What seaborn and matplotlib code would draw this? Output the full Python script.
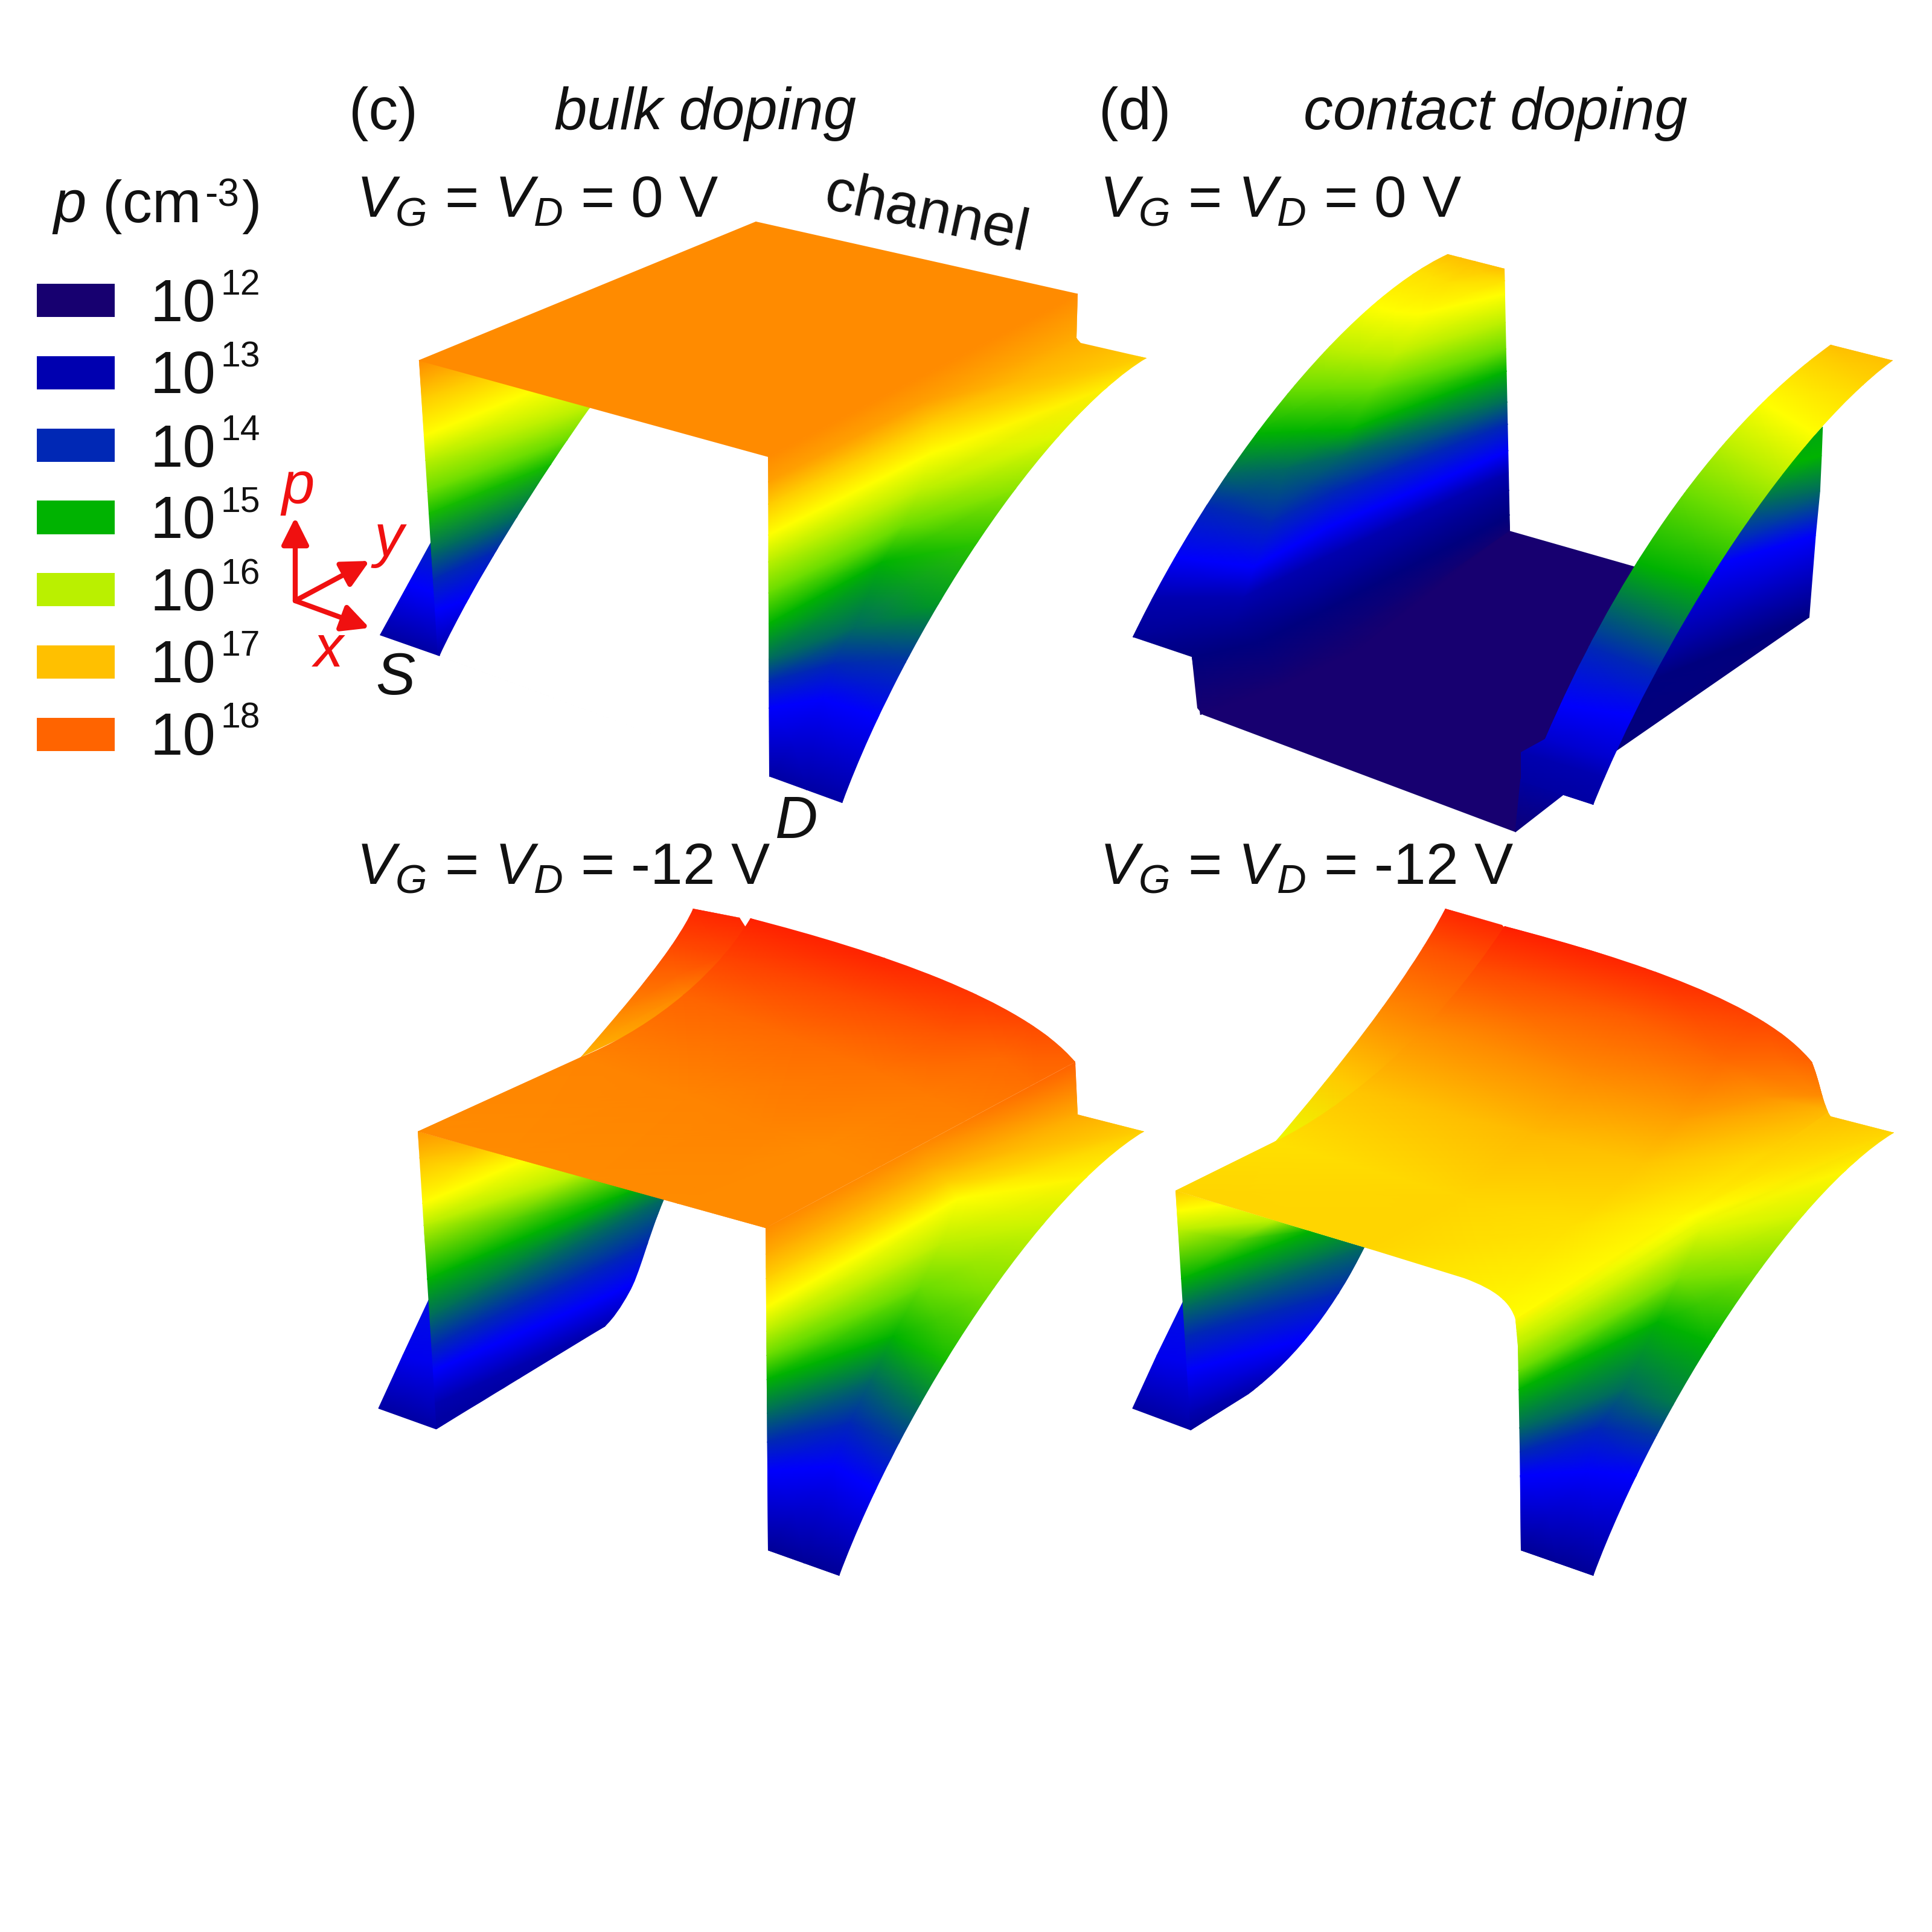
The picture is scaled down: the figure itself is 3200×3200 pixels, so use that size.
import numpy as np
import pandas as pd
import matplotlib
matplotlib.use("Agg")
import matplotlib.pyplot as plt
from matplotlib.colors import LinearSegmentedColormap, Normalize
from matplotlib.patches import PathPatch
from matplotlib.path import Path
import seaborn as sns

sns.set_theme(style="white")
plt.rcParams['font.family'] = ['Liberation Sans', 'DejaVu Sans']
plt.rcParams['mathtext.fontset'] = 'custom'
plt.rcParams['mathtext.rm'] = 'Liberation Sans'
plt.rcParams['mathtext.it'] = 'Liberation Sans:italic'
plt.rcParams['mathtext.bf'] = 'Liberation Sans:bold'

# colour scale, log10(p)
scale_levels = [12, 12.6, 13, 13.5, 14, 14.5, 15, 15.5, 16, 16.4, 17, 17.5, 18, 18.8]
scale_colors = ['#170070', '#00007f', '#0000b0', '#0000ff', '#0028b4', '#006a60', '#00b400',
                '#6add00', '#b9f000', '#ffff00', '#ffc000', '#ff8c00', '#ff6400', '#ff1e00']
legend_exponents = [12, 13, 14, 15, 16, 17, 18]

# (c) 0 V
c0_plate_x = [[150, 775], [797, 1372]]
c0_plate_y = [[405, 92], [622, 255]]
c0_plate_p = [[17.5, 17.5], [17.5, 17.5]]
c0_drain_x = [[797, 1085, 1372], [797, 1085, 1370], [797, 1100, 1500], [797, 1100, 1420], [798, 1080, 1330],
              [798, 1050, 1250], [798, 1010, 1180], [799, 960, 1100], [799, 920, 1050], [799, 900, 1005], [800, 868, 935]]
c0_drain_y = [[622, 438, 255], [680, 500, 355], [730, 545, 400], [800, 615, 470], [860, 700, 580],
              [930, 780, 700], [1000, 860, 820], [1080, 1010, 960], [1130, 1090, 1080], [1190, 1170, 1210], [1345, 1375, 1405]]
c0_drain_p = [[17.5, 17.5, 17.5], [17.3, 17.3, 17.2], [16.9, 16.9, 16.85], [16.4, 16.4, 16.55], [16, 16, 16.2],
              [15.5, 15.5, 15.7], [15, 15, 15.2], [14.5, 14.5, 14.8], [14, 14, 14.1], [13.5, 13.5, 13.5], [12.9, 12.9, 12.9]]
c0_drain_edge = [(797, 622), (1372, 255), (1370, 355), (1378, 365), (1500, 400),
                 (1310, 540, 1055, 1010, 935, 1405), (800, 1345)]
c0_source_x = [[150, 150], [155, 260], [160, 360], [163, 468], [167, 425], [170, 395], [173, 330], [176, 285], [180, 240], [185, 188]]
c0_source_y = [[405, 405], [490, 445], [575, 475], [630, 512], [700, 585], [750, 640], [840, 760], [900, 840], [970, 945], [1072, 1072]]
c0_source_p = [[17.5, 17.5], [16.9, 16.9], [16.4, 16.4], [16, 16], [15.5, 15.5], [15.1, 15.1], [14.5, 14.5], [14, 14], [13.5, 13.5], [12.9, 12.9]]
c0_source_edge = [(150, 405), (468, 510), (380, 660, 250, 910, 188, 1072), (185, 1072)]
c0_flap_x = [[175, 195], [130, 205], [78, 188]]
c0_flap_y = [[810, 810], [910, 940], [1025, 1072]]
c0_flap_p = [[14, 14], [13.5, 13.5], [12.9, 12.9]]

# (d) 0 V
d0_floor_x = [785, 1015, 1060, 900, 805, 795, 215, 205, 195]
d0_floor_y = [790, 870, 900, 1300, 1380, 1470, 1205, 1190, 1075]
d0_corner_x = [[805, 890], [795, 795]]
d0_corner_y = [[1350, 1380], [1470, 1470]]
d0_corner_p = [[12.9, 12.9], [12.3, 12.3]]
d0_wall_x = [[1365, 1365], [1300, 1363], [1240, 1360], [1130, 1352], [1020, 1340], [960, 1340]]
d0_wall_y = [[555, 555], [640, 620], [730, 700], [880, 800], [1140, 985], [1305, 985]]
d0_wall_p = [[14.9, 14.9], [15, 15], [14.5, 14.5], [13.5, 13.5], [12.6, 12.6], [12.5, 12.5]]
d0_left_x = [[670, 695, 720, 775], [610, 640, 670, 775], [520, 570, 620, 775], [440, 505, 570, 775], [370, 450, 530, 776],
             [310, 400, 490, 777], [260, 365, 470, 778], [225, 340, 460, 779], [170, 310, 450, 780], [130, 290, 440, 780],
             [85, 270, 420, 781], [195, 320, 430, 783], [215, 350, 470, 785], [210, 360, 500, 785]]
d0_left_y = [[165, 172, 180, 198], [200, 215, 228, 225], [280, 295, 300, 255], [380, 390, 395, 320], [470, 470, 470, 380],
             [570, 565, 560, 430], [660, 650, 620, 500], [735, 770, 700, 550], [850, 870, 780, 610], [940, 940, 850, 660],
             [1030, 1000, 930, 700], [1075, 1040, 975, 755], [1150, 1110, 1030, 790], [1205, 1140, 1060, 790]]
d0_left_p = [[17] * 4, [16.7] * 4, [16.4] * 4, [16] * 4, [15.5] * 4, [15] * 4, [14.5] * 4,
             [14] * 4, [13.5] * 4, [13] * 4, [12.8] * 4, [12.6] * 4, [12.2] * 4, [12] * 4]
d0_left_edge = [(85, 1030), (235, 650, 480, 270, 670, 165), (775, 198), (785, 790), (500, 1100), (210, 1205), (195, 1075)]
d0_strip_x = [[1380, 1495], [1330, 1440], [1240, 1350], [1170, 1290], [1100, 1230], [1020, 1150], [980, 1100], [930, 1060], [880, 1020], [850, 985], [805, 970], [805, 940]]
d0_strip_y = [[370, 405], [400, 460], [490, 570], [590, 670], [700, 770], [860, 910], [960, 1020], [1050, 1110], [1180, 1210], [1260, 1310], [1290, 1350], [1355, 1408]]
d0_strip_p = [[17, 17], [16.8, 16.8], [16.4, 16.4], [16, 16], [15.5, 15.5], [15, 15], [14.5, 14.5], [14, 14], [13.5, 13.5], [13.2, 13.2], [13, 13], [12.9, 12.9]]
d0_strip_edge = [(1380, 370), (1495, 405), (1290, 590, 1055, 1060, 940, 1408), (805, 1355), (805, 1290), (850, 1260),
                 (970, 920, 1150, 570, 1380, 370)]

# (c) -12 V
c12_wing_x = [[658, 745], [620, 720], [530, 640], [450, 450]]
c12_wing_y = [[132, 150], [210, 230], [340, 310], [440, 440]]
c12_wing_p = [[18.7, 18.7], [18.3, 18.3], [17.6, 17.6], [17.1, 17.1]]
c12_wing_edge = [(450, 440), (535, 330, 625, 215, 658, 132), (745, 150), (757, 172), (650, 340)]
c12_plate_x = [[765, 1000, 1180, 1290, 1367], [720, 950, 1130, 1230, 1300], [640, 850, 1000, 1100, 1180], [450, 650, 800, 900, 1000], [148, 310, 470, 630, 793]]
c12_plate_y = [[152, 235, 300, 370, 450], [230, 310, 390, 440, 500], [310, 400, 470, 520, 570], [440, 520, 590, 630, 680], [595, 645, 695, 745, 795]]
c12_plate_p = [[18.75, 18.7, 18.55, 18.3, 18], [18.4, 18.3, 18.15, 17.95, 17.85], [18, 17.9, 17.8, 17.7, 17.65], [17.6, 17.6, 17.6, 17.5, 17.5], [17.5, 17.5, 17.5, 17.5, 17.5]]
c12_plate_edge = [(148, 595), (450, 440), (560, 390, 690, 290, 765, 152), (1000, 220, 1270, 320, 1367, 450), (793, 795)]
c12_drain_x = [[793, 1085, 1367], [793, 1100, 1372], [794, 1130, 1495], [794, 1150, 1390], [794, 1120, 1300], [795, 1080, 1200], [795, 1030, 1125], [796, 990, 1080], [796, 950, 1040], [797, 920, 1000], [797, 864, 930]]
c12_drain_y = [[795, 625, 455], [850, 670, 560], [900, 700, 595], [960, 735, 690], [1010, 830, 790], [1060, 920, 930], [1110, 1020, 1070], [1180, 1110, 1160], [1240, 1200, 1240], [1300, 1290, 1340], [1465, 1492, 1518]]
c12_drain_p = [[17.5, 17.5, 18], [17.2, 17.2, 17.2], [16.85, 16.85, 16.85], [16.4, 16.4, 16.5], [16, 16, 16.1], [15.5, 15.5, 15.6], [15, 15, 15.1], [14.5, 14.5, 14.6], [14, 14, 14.1], [13.5, 13.5, 13.5], [12.8, 12.8, 12.8]]
c12_drain_edge = [(793, 795), (1367, 450), (1372, 560), (1495, 595), (1305, 724, 1050, 1156, 930, 1518), (797, 1465)]
c12_source_x = [[148, 148], [150, 250], [155, 335], [158, 430], [168, 520], [172, 605], [176, 570], [180, 530], [181, 495], [182, 350], [182, 182]]
c12_source_y = [[595, 595], [650, 630], [745, 660], [790, 690], [900, 730], [980, 735], [1040, 830], [1090, 920], [1160, 1000], [1195, 1105], [1213, 1213]]
c12_source_p = [[17.4, 17.4], [17, 17], [16.4, 16.4], [16, 16], [15, 15], [14.5, 14.5], [14, 14], [13.5, 13.5], [13, 13], [12.9, 12.9], [12.9, 12.9]]
c12_source_edge = [(148, 595), (605, 735), (575, 815, 560, 890, 540, 930), (525, 960, 510, 985, 495, 1000), (182, 1213)]
c12_flap_x = [[168, 190], [120, 200], [75, 182]]
c12_flap_y = [[945, 945], [1060, 1080], [1170, 1213]]
c12_flap_p = [[13.7, 13.7], [13.4, 13.4], [12.9, 12.9]]

# (d) -12 V
d12_wing_x = [[665, 790], [630, 750], [540, 680], [440, 560], [350, 420]]
d12_wing_y = [[132, 170], [210, 250], [340, 400], [470, 540], [615, 640]]
d12_wing_p = [[18.7, 18.7], [18.2, 18.2], [17.5, 17.5], [16.9, 16.9], [16.3, 16.3]]
d12_wing_edge = [(350, 615), (460, 470, 590, 290, 665, 132), (770, 165), (790, 190), (700, 420), (500, 560)]
d12_plate_x = [[775, 1050, 1250, 1345], [725, 1000, 1180, 1360], [640, 930, 1100, 1375], [500, 830, 1030, 1250], [350, 700, 900, 1100], [165, 515, 770, 795]]
d12_plate_y = [[168, 255, 350, 450], [250, 350, 450, 520], [380, 480, 570, 550], [510, 600, 660, 640], [615, 730, 790, 770], [718, 835, 945, 985]]
d12_plate_p = [[18.8, 18.7, 18.4, 18], [18.3, 18.1, 17.9, 17.5], [17.5, 17.5, 17.3, 17.1], [16.95, 17.05, 16.95, 16.8], [16.7, 16.8, 16.7, 16.5], [16.8, 16.8, 16.5, 16.4]]
d12_plate_edge = [(165, 718), (350, 615), (470, 550, 640, 400, 775, 168), (1020, 240, 1260, 330, 1345, 450),
                  (1360, 490, 1362, 520, 1375, 555), (1100, 770), (795, 985), (785, 950, 760, 925, 700, 900), (515, 835)]
d12_drain_x = [[795, 1100, 1380], [798, 1130, 1497], [799, 1135, 1400], [800, 1140, 1320], [802, 1100, 1230], [803, 1060, 1150], [804, 1000, 1085], [805, 950, 1050], [805, 930, 1020], [805, 870, 940]]
d12_drain_y = [[985, 770, 563], [1010, 770, 597], [1025, 785, 680], [1040, 800, 770], [1090, 900, 890], [1130, 990, 1030], [1210, 1130, 1160], [1260, 1210, 1225], [1310, 1300, 1310], [1465, 1490, 1518]]
d12_drain_p = [[16.45, 16.5, 17], [16.2, 16.4, 16.8], [16.1, 16.3, 16.5], [16, 16.2, 16.15], [15.5, 15.6, 15.6], [15, 15, 15], [14.5, 14.5, 14.6], [14, 14, 14.1], [13.5, 13.5, 13.5], [12.8, 12.8, 12.8]]
d12_drain_edge = [(795, 985), (1345, 450), (1360, 490, 1362, 520, 1375, 555), (1380, 563), (1497, 597),
                  (1310, 726, 1060, 1158, 940, 1518), (805, 1465), (803, 1250), (800, 1040)]
d12_source_x = [[165, 165], [167, 260], [170, 350], [177, 420], [182, 515], [185, 470], [188, 420], [190, 330], [193, 193]]
d12_source_y = [[718, 718], [760, 745], [800, 780], [900, 800], [960, 835], [1020, 930], [1090, 1020], [1180, 1120], [1215, 1215]]
d12_source_p = [[16.9, 16.9], [16.4, 16.4], [16, 16], [15, 15], [14.5, 14.5], [14, 14], [13.5, 13.5], [13, 13], [12.8, 12.8]]
d12_source_edge = [(165, 718), (515, 835), (465, 950, 395, 1060, 300, 1140), (193, 1215)]
d12_flap_x = [[178, 200], [130, 210], [85, 193]]
d12_flap_y = [[950, 950], [1060, 1080], [1170, 1215]]
d12_flap_p = [[13.7, 13.7], [13.4, 13.4], [12.9, 12.9]]

p_norm = Normalize(scale_levels[0], scale_levels[-1])
p_cmap = LinearSegmentedColormap.from_list(
    "doping", [(float(p_norm(v)), c) for v, c in zip(scale_levels, scale_colors)], N=512)


def panel_axes(fig, left, top, width, height):
    # axes covering one region of the 3200 px canvas, 1568 read-off units each way
    ax = fig.add_axes([left / 3200, 1 - (top + height) / 3200, width / 3200, height / 3200])
    ax.set_xlim(0, 1568)
    ax.set_ylim(1568, 0)
    ax.axis("off")
    return ax


def edge_path(edge):
    # 2 numbers = straight line to a point, 6 numbers = cubic curve (two controls + end)
    verts, codes = [], []
    for seg in edge:
        pts = [seg[i:i + 2] for i in range(0, len(seg), 2)]
        verts += pts
        if len(pts) == 3:
            codes += [Path.CURVE4] * 3
        else:
            codes.append(Path.LINETO if codes else Path.MOVETO)
    verts.append(edge[0][:2])
    codes.append(Path.CLOSEPOLY)
    return Path(verts, codes)


def sheet(ax, xs, ys, ps, edge=None):
    xs, ys, ps = np.array(xs, float), np.array(ys, float), np.array(ps, float)
    if edge is not None:
        # mesh runs past its rim, the rim itself comes from the clip outline
        xs = np.pad(xs, 1, mode="reflect", reflect_type="odd")
        ys = np.pad(ys, 1, mode="reflect", reflect_type="odd")
        ps = np.pad(ps, 1, mode="edge")
    mesh = ax.pcolormesh(xs, ys, ps, shading="gouraud", cmap=p_cmap, norm=p_norm)
    if edge is not None:
        mesh.set_clip_path(PathPatch(edge_path(edge), transform=ax.transData))


fig = plt.figure(figsize=(8, 8), dpi=400, facecolor="white")

# legend swatches
ax_leg = fig.add_axes([61 / 3200, 1 - 1276 / 3200, 129 / 3200, 838 / 3200])
leg_df = pd.DataFrame({"exp": [str(e) for e in legend_exponents], "w": [1] * len(legend_exponents)})
sns.barplot(data=leg_df, x="w", y="exp", hue="exp", ax=ax_leg, width=0.46, saturation=1, legend=False, linewidth=0,
            palette=[p_cmap(p_norm(e)) for e in legend_exponents])
ax_leg.set_xlim(0, 1)
ax_leg.axis("off")

ax = panel_axes(fig, 560, 300, 1400, 1150)
sheet(ax, c0_flap_x, c0_flap_y, c0_flap_p)
sheet(ax, c0_source_x, c0_source_y, c0_source_p, c0_source_edge)
sheet(ax, c0_drain_x, c0_drain_y, c0_drain_p, c0_drain_edge)
sheet(ax, c0_plate_x, c0_plate_y, c0_plate_p)

ax = panel_axes(fig, 1800, 300, 1400, 1150)
ax.fill(d0_floor_x, d0_floor_y, color=p_cmap(p_norm(12)), lw=0)
sheet(ax, d0_wall_x, d0_wall_y, d0_wall_p)
sheet(ax, d0_corner_x, d0_corner_y, d0_corner_p)
sheet(ax, d0_left_x, d0_left_y, d0_left_p, d0_left_edge)
sheet(ax, d0_strip_x, d0_strip_y, d0_strip_p, d0_strip_edge)

ax = panel_axes(fig, 560, 1400, 1400, 1250)
sheet(ax, c12_flap_x, c12_flap_y, c12_flap_p)
sheet(ax, c12_source_x, c12_source_y, c12_source_p, c12_source_edge)
sheet(ax, c12_wing_x, c12_wing_y, c12_wing_p, c12_wing_edge)
sheet(ax, c12_drain_x, c12_drain_y, c12_drain_p, c12_drain_edge)
sheet(ax, c12_plate_x, c12_plate_y, c12_plate_p, c12_plate_edge)

ax = panel_axes(fig, 1800, 1400, 1400, 1250)
sheet(ax, d12_flap_x, d12_flap_y, d12_flap_p)
sheet(ax, d12_source_x, d12_source_y, d12_source_p, d12_source_edge)
sheet(ax, d12_wing_x, d12_wing_y, d12_wing_p, d12_wing_edge)
sheet(ax, d12_drain_x, d12_drain_y, d12_drain_p, d12_drain_edge)
sheet(ax, d12_plate_x, d12_plate_y, d12_plate_p, d12_plate_edge)

# text layer in canvas pixels
ax_t = fig.add_axes([0, 0, 1, 1])
ax_t.set_xlim(0, 3200)
ax_t.set_ylim(3200, 0)
ax_t.axis("off")
ink = "#111111"
FS = 17.6

ax_t.text(578, 214, "(c)", fontsize=FS, color=ink)
ax_t.text(918, 214, "bulk doping", fontsize=FS, style="italic", color=ink)
ax_t.text(1820, 214, "(d)", fontsize=FS, color=ink)
ax_t.text(2159, 214, "contact doping", fontsize=FS, style="italic", color=ink)
for x0, y0, lab in [(590, 359, "0"), (1821, 359, "0"), (590, 1464, "-12"), (1821, 1464, "-12")]:
    ax_t.text(x0, y0, "$V_G$ = $V_D$ = %s V" % lab, fontsize=17.35, color=ink)
ax_t.text(86, 368, "$p$ (cm", fontsize=FS, color=ink)
ax_t.text(339, 341, "-3", fontsize=11.5, color=ink)
ax_t.text(400, 368, ")", fontsize=FS, color=ink)
ax_t.text(1362, 345, "channel", fontsize=FS, color=ink, rotation=-12, rotation_mode="anchor")
ax_t.text(622, 1150, "S", fontsize=FS, style="italic", color=ink)
ax_t.text(1284, 1388, "D", fontsize=FS, style="italic", color=ink)

for e, yc in zip(legend_exponents, [498, 617, 739, 857, 977, 1096, 1216]):
    ax_t.text(248, yc + 34, "10", fontsize=FS, color=ink)
    ax_t.text(366, yc - 10, str(e), fontsize=10.6, color=ink)

red = "#f01010"
origin = (489, 995)
for tip in [(489, 857), (612, 929), (612, 1040)]:
    ax_t.annotate("", xy=tip, xytext=origin,
                  arrowprops=dict(arrowstyle="-|>", color=red, lw=1.5, mutation_scale=17, shrinkA=0, shrinkB=0))
ax_t.text(466, 834, "p", fontsize=FS, style="italic", color=red)
ax_t.text(620, 921, "y", fontsize=FS, style="italic", color=red)
ax_t.text(520, 1104, "x", fontsize=FS, style="italic", color=red)

fig.savefig("out.png", dpi=400, facecolor="white")
